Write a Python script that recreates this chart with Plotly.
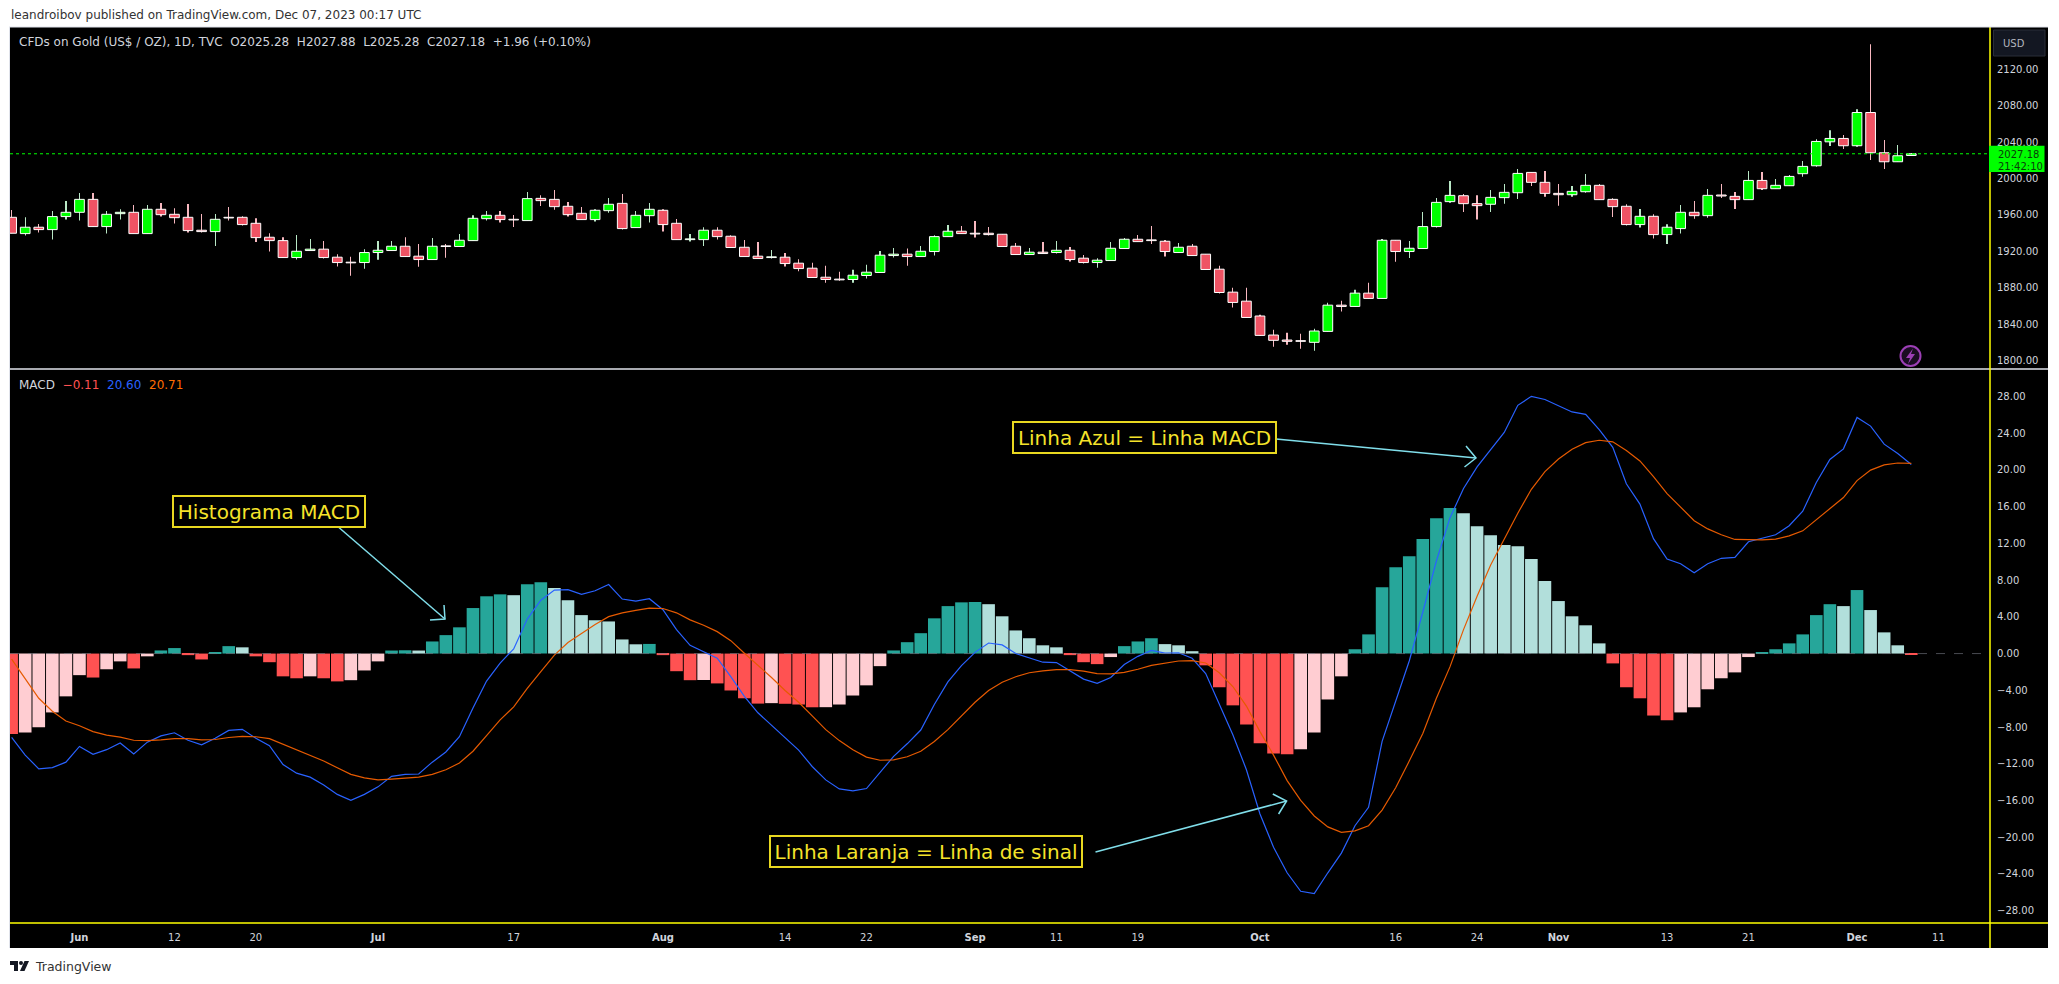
import pandas as pd
import plotly.graph_objects as go

# daily candles, May 25 to Dec 07 2023
open_ = [1957.4, 1939.5, 1946.5, 1943.9, 1958.2, 1962.9, 1977.1, 1947.2, 1961.4, 1962.9, 1939.5, 1966.2, 1960.7, 1957.4, 1943.2,
         1941.7, 1957.4, 1957.4, 1950.8, 1935.5, 1931.8, 1913.2, 1920.9, 1922.4, 1913.6, 1908.1, 1907.7, 1918.7, 1920.9, 1925.6,
         1914.7, 1911.0, 1926.0, 1925.3, 1931.8, 1955.9, 1959.6, 1955.2, 1953.8, 1978.2, 1977.1, 1969.5, 1961.8, 1954.9, 1964.7,
         1972.7, 1946.1, 1959.2, 1965.1, 1950.8, 1932.9, 1932.9, 1943.2, 1936.6, 1924.5, 1914.7, 1913.2, 1913.6, 1907.0, 1901.5,
         1891.6, 1889.5, 1889.1, 1893.5, 1896.8, 1915.4, 1916.9, 1914.3, 1919.8, 1936.2, 1942.1, 1939.9, 1939.9, 1938.8, 1925.6,
         1916.5, 1919.1, 1918.7, 1921.2, 1912.5, 1907.7, 1909.9, 1923.1, 1933.3, 1932.6, 1931.1, 1918.7, 1925.6, 1916.9, 1900.4,
         1875.2, 1865.3, 1849.0, 1828.1, 1822.6, 1821.9, 1820.1, 1832.1, 1860.9, 1859.5, 1874.1, 1868.3, 1932.2, 1919.8, 1923.1,
         1947.2, 1974.6, 1981.1, 1972.4, 1971.7, 1979.0, 1984.4, 2006.7, 1995.8, 1983.7, 1982.2, 1985.5, 1992.5, 1977.1, 1969.5,
         1949.4, 1958.5, 1938.4, 1945.0, 1962.9, 1959.2, 1981.9, 1980.4, 1976.8, 1997.9, 1988.8, 1992.1, 2005.3, 2014.0, 2040.3,
         2044.0, 2036.0, 2072.5, 2028.3, 2018.4, 2025.28]
high = [1965.5, 1957.4, 1950.1, 1964.4, 1975.3, 1984.1, 1984.1, 1964.4, 1966.2, 1970.9, 1970.9, 1973.1, 1967.3, 1972.0, 1961.1,
        1961.1, 1968.7, 1958.5, 1956.3, 1939.9, 1935.5, 1938.0, 1933.7, 1931.5, 1916.9, 1914.0, 1922.4, 1931.5, 1931.5, 1935.5,
        1928.2, 1934.8, 1928.2, 1939.1, 1959.6, 1964.4, 1964.4, 1960.0, 1985.2, 1981.5, 1987.3, 1974.2, 1968.7, 1966.2, 1978.6,
        1983.0, 1964.4, 1973.1, 1966.2, 1955.6, 1939.1, 1946.5, 1946.5, 1937.7, 1932.6, 1930.4, 1921.6, 1918.3, 1911.4, 1907.4,
        1904.1, 1897.5, 1899.7, 1905.2, 1920.5, 1923.8, 1923.1, 1926.0, 1937.7, 1949.0, 1947.9, 1953.4, 1946.8, 1938.8, 1929.3,
        1923.8, 1930.4, 1931.5, 1924.9, 1916.1, 1912.5, 1930.4, 1934.8, 1938.0, 1947.9, 1932.6, 1929.3, 1928.2, 1916.9, 1904.1,
        1880.0, 1880.0, 1850.4, 1834.0, 1830.7, 1829.6, 1835.0, 1863.5, 1865.7, 1877.8, 1885.4, 1933.7, 1932.2, 1931.5, 1963.2,
        1978.6, 1997.2, 1983.0, 1981.5, 1987.3, 1993.9, 2010.4, 2006.7, 2008.2, 1993.9, 1991.7, 2005.0, 1993.9, 1978.2, 1971.7,
        1966.5, 1960.7, 1949.7, 1970.9, 1975.3, 1988.5, 1993.9, 1985.2, 2008.2, 2007.1, 1999.4, 2003.8, 2019.3, 2043.2, 2053.1,
        2047.7, 2076.1, 2147.4, 2042.2, 2036.7, 2027.88]
low = [1939.9, 1937.3, 1940.6, 1932.9, 1954.9, 1953.8, 1947.2, 1939.5, 1954.9, 1939.5, 1939.5, 1958.2, 1950.5, 1940.6, 1940.6,
       1926.0, 1953.8, 1948.3, 1930.4, 1919.8, 1913.2, 1911.0, 1920.9, 1912.1, 1903.3, 1893.1, 1900.8, 1910.7, 1920.9, 1914.3,
       1903.0, 1911.0, 1913.0, 1925.3, 1931.8, 1953.8, 1951.6, 1946.8, 1953.8, 1969.8, 1965.8, 1958.2, 1954.9, 1952.7, 1962.5,
       1943.9, 1946.1, 1951.6, 1941.7, 1932.9, 1930.7, 1926.0, 1932.9, 1924.2, 1914.3, 1912.1, 1912.1, 1903.3, 1898.1, 1891.3,
       1885.4, 1887.6, 1885.4, 1890.2, 1896.8, 1913.2, 1904.1, 1914.3, 1915.4, 1936.2, 1939.5, 1935.1, 1937.3, 1925.3, 1916.5,
       1916.5, 1917.6, 1917.6, 1908.8, 1906.6, 1901.9, 1909.9, 1923.1, 1930.7, 1928.2, 1914.3, 1918.7, 1915.4, 1900.1, 1873.8,
       1858.4, 1847.4, 1827.7, 1815.3, 1817.5, 1813.1, 1810.9, 1832.1, 1854.0, 1859.5, 1868.3, 1868.3, 1908.5, 1912.8, 1923.1,
       1946.1, 1973.5, 1963.2, 1954.9, 1963.2, 1972.4, 1977.5, 1991.7, 1980.1, 1970.2, 1980.1, 1984.4, 1976.8, 1957.8, 1948.3,
       1946.1, 1934.0, 1928.2, 1939.5, 1955.9, 1957.0, 1978.6, 1966.5, 1976.8, 1987.3, 1988.8, 1992.1, 2002.0, 2013.0, 2035.6,
       2032.3, 2034.9, 2020.3, 2010.4, 2018.4, 2025.28]
close = [1939.9, 1946.5, 1943.9, 1958.2, 1962.9, 1977.1, 1947.2, 1960.7, 1962.9, 1939.5, 1966.2, 1960.3, 1957.0, 1942.8, 1941.7,
         1955.2, 1956.7, 1949.4, 1935.1, 1931.8, 1913.2, 1920.1, 1922.4, 1913.2, 1907.7, 1907.4, 1918.7, 1921.2, 1925.6, 1914.3,
         1911.0, 1925.6, 1925.3, 1932.2, 1956.3, 1959.6, 1954.9, 1954.5, 1977.9, 1975.7, 1969.1, 1960.3, 1954.9, 1965.1, 1971.7,
         1945.0, 1959.6, 1966.2, 1949.4, 1932.9, 1933.7, 1943.2, 1936.2, 1924.2, 1914.3, 1912.1, 1914.0, 1906.6, 1901.1, 1891.3,
         1889.1, 1888.7, 1893.8, 1897.1, 1915.8, 1916.9, 1914.3, 1920.1, 1936.2, 1942.1, 1939.5, 1939.1, 1938.4, 1925.3, 1916.5,
         1919.1, 1917.6, 1921.2, 1911.0, 1907.7, 1910.3, 1923.4, 1933.3, 1930.7, 1931.8, 1919.8, 1924.5, 1915.4, 1900.1, 1874.8,
         1863.9, 1847.4, 1827.7, 1822.3, 1821.2, 1821.2, 1832.5, 1860.9, 1859.5, 1874.1, 1868.3, 1932.2, 1919.8, 1923.4, 1947.2,
         1973.8, 1981.5, 1972.4, 1970.2, 1979.3, 1984.8, 2005.6, 1995.8, 1983.7, 1982.2, 1985.9, 1992.5, 1976.8, 1969.1, 1949.4,
         1958.5, 1938.4, 1946.5, 1962.9, 1959.2, 1981.5, 1980.8, 1976.8, 1997.9, 1988.8, 1992.5, 2002.3, 2013.3, 2040.7, 2044.0,
         2036.0, 2072.5, 2028.3, 2018.4, 2025.0, 2027.18]

hist = [-8.76, -8.59, -8.03, -6.41, -4.66, -2.35, -2.61, -1.71, -0.85, -1.62, -0.30, 0.34, 0.60, -0.17, -0.64,
        0.13, 0.81, 0.68, -0.30, -0.94, -2.48, -2.69, -2.48, -2.69, -3.03, -2.90, -1.84, -0.85, 0.33, 0.36,
        0.33, 1.32, 2.01, 2.86, 4.96, 6.24, 6.45, 6.36, 7.56, 7.77, 7.13, 5.81, 4.19, 3.63, 3.50,
        1.54, 1.01, 1.05, -0.17, -1.92, -2.90, -2.88, -3.25, -4.02, -4.87, -5.45, -5.40, -5.47, -5.55, -5.85,
        -5.84, -5.55, -4.57, -3.46, -1.37, 0.34, 1.24, 2.22, 3.84, 5.17, 5.58, 5.62, 5.38, 4.06, 2.52,
        1.67, 0.90, 0.68, -0.17, -0.94, -1.15, -0.38, 0.81, 1.32, 1.67, 1.03, 0.90, 0.26, -1.28, -3.67,
        -5.64, -7.73, -9.78, -10.89, -10.98, -10.42, -8.59, -5.00, -2.48, 0.47, 2.09, 7.22, 9.40, 10.59, 12.47,
        14.74, 15.85, 15.29, 13.88, 12.90, 11.83, 11.70, 10.29, 7.90, 5.72, 4.06, 3.08, 1.11, -1.07, -3.67,
        -4.87, -6.75, -7.26, -6.41, -5.85, -3.89, -2.69, -2.05, -0.38, 0.13, 0.47, 1.11, 2.09, 4.19, 5.38,
        5.17, 6.92, 4.74, 2.31, 0.90, -0.11]
macd = [-9.14, -11.06, -12.56, -12.43, -11.83, -10.12, -10.98, -10.47, -9.74, -10.94, -9.65, -8.97, -8.63, -9.44, -9.95,
        -9.23, -8.37, -8.25, -9.23, -10.04, -12.09, -13.03, -13.46, -14.31, -15.34, -15.98, -15.34, -14.52, -13.37, -13.16,
        -13.12, -11.83, -10.72, -9.06, -5.94, -2.99, -1.03, 0.51, 3.76, 5.81, 6.92, 6.96, 6.45, 6.84, 7.52,
        5.94, 5.72, 5.98, 4.78, 2.61, 0.90, 0.17, -0.51, -2.52, -4.66, -6.45, -7.78, -9.18, -10.51, -12.30,
        -13.76, -14.74, -14.95, -14.70, -12.90, -11.19, -9.83, -8.33, -5.55, -3.08, -1.32, 0.13, 1.15, 0.94, 0.0,
        -0.47, -0.94, -0.98, -1.88, -2.78, -3.25, -2.61, -1.20, -0.30, 0.34, 0.04, 0.09, -0.51, -2.18, -5.55,
        -8.84, -12.65, -17.47, -21.10, -23.88, -25.89, -26.14, -23.88, -21.74, -18.75, -16.75, -9.57, -5.30, -0.81, 4.53,
        10.08, 14.78, 17.99, 20.33, 22.26, 24.09, 27.04, 28.02, 27.68, 26.96, 26.32, 26.06, 24.39, 22.47, 18.50,
        16.28, 12.52, 10.30, 9.78, 8.80, 9.78, 10.38, 10.47, 12.18, 12.52, 12.94, 13.93, 15.51, 18.63, 21.15,
        22.30, 25.72, 24.78, 22.81, 21.79, 20.60]
signal = [-0.60, -2.73, -4.87, -6.28, -7.35, -7.86, -8.50, -8.89, -9.10, -9.44, -9.48, -9.40, -9.27, -9.27, -9.40,
          -9.36, -9.14, -9.01, -9.06, -9.27, -9.87, -10.47, -11.06, -11.71, -12.43, -13.16, -13.54, -13.76, -13.67, -13.54,
          -13.46, -13.16, -12.65, -11.92, -10.64, -8.93, -7.22, -5.81, -3.80, -1.97, -0.17, 1.20, 2.18, 3.16, 4.02,
          4.44, 4.70, 4.96, 4.91, 4.44, 3.67, 3.08, 2.39, 1.41, 0.04, -1.24, -2.61, -4.02, -5.30, -6.79,
          -8.29, -9.48, -10.47, -11.28, -11.62, -11.58, -11.24, -10.64, -9.57, -8.29, -6.79, -5.30, -4.02, -3.12, -2.52,
          -2.09, -1.88, -1.75, -1.75, -1.92, -2.18, -2.22, -2.05, -1.71, -1.28, -1.03, -0.81, -0.77, -1.03, -2.09,
          -3.59, -5.72, -8.50, -11.06, -13.84, -15.98, -17.69, -18.88, -19.48, -19.31, -18.75, -17.05, -14.61, -11.71, -8.71,
          -4.87, -1.45, 2.61, 6.24, 9.65, 12.56, 15.29, 17.90, 19.82, 21.19, 22.26, 22.98, 23.24, 23.07, 22.13,
          20.98, 19.27, 17.43, 15.98, 14.48, 13.58, 12.94, 12.43, 12.39, 12.39, 12.47, 12.82, 13.37, 14.57, 15.76,
          17.00, 18.84, 19.99, 20.55, 20.76, 20.71]

tick_dates = ["2023-06-01", "2023-06-12", "2023-06-20", "2023-07-03", "2023-07-17", "2023-08-01", "2023-08-14",
              "2023-08-22", "2023-09-01", "2023-09-11", "2023-09-19", "2023-10-02", "2023-10-16", "2023-10-24",
              "2023-11-01", "2023-11-13", "2023-11-21", "2023-12-01", "2023-12-11"]
tick_labels = ["<b>Jun</b>", "12", "20", "<b>Jul</b>", "17", "<b>Aug</b>", "14", "22", "<b>Sep</b>", "11", "19",
               "<b>Oct</b>", "16", "24", "<b>Nov</b>", "13", "21", "<b>Dec</b>", "11"]
price_ticks = [1800, 1840, 1880, 1920, 1960, 2000, 2040, 2080, 2120]
macd_ticks = [-28, -24, -20, -16, -12, -8, -4, 0, 4, 8, 12, 16, 20, 24, 28]

W, H = 2059, 984
FONT = "DejaVu Sans"
YELLOW = "#f5e32a"
ARROW = "#80deea"
TEXT = "#d1d4dc"


def px(x):
    return x / W


def py(y):
    return 1 - y / H


def poly(points, closed=False):
    cmds = [("M" if i == 0 else "L") + f"{px(x):.5f},{py(y):.5f}" for i, (x, y) in enumerate(points)]
    return " ".join(cmds) + (" Z" if closed else "")


# the time scale runs on a few sessions past the last bar
axis_days = pd.bdate_range("2023-05-25", periods=len(close) + 6).strftime("%Y-%m-%d").tolist()
days = axis_days[:len(close)]

# histogram colour depends on sign and on the direction against the previous bar
bar_colors = []
for i, h in enumerate(hist):
    falling = i == 0 or h < hist[i - 1]
    if h >= 0:
        bar_colors.append("#b2dfdb" if falling else "#26a69a")
    else:
        bar_colors.append("#ff5252" if falling else "#ffcdd2")

up = [c >= o for o, c in zip(open_, close)]

fig = go.Figure()

# candles as two overlaid bar traces: go.Candlestick only has one colour for wick and
# border, and here the wick is pale while the border is white
fig.add_trace(go.Bar(
    x=days, base=low, y=[h - l for h, l in zip(high, low)], xaxis="x", yaxis="y", width=0.02,
    marker=dict(color=["#b9e8c6" if u else "#f8b8c0" for u in up], line=dict(width=0)),
))
fig.add_trace(go.Bar(
    x=days, base=[min(o, c) for o, c in zip(open_, close)], y=[abs(c - o) for o, c in zip(open_, close)],
    xaxis="x", yaxis="y", width=0.715,
    marker=dict(color=["#00ff00" if u else "#ef5364" for u in up], line=dict(color="#ffffff", width=1)),
))
fig.add_trace(go.Bar(x=days, y=hist, xaxis="x2", yaxis="y2", width=0.93,
                     marker=dict(color=bar_colors, line=dict(width=0))))
fig.add_trace(go.Scatter(x=days, y=macd, xaxis="x2", yaxis="y2", mode="lines",
                         line=dict(color="#2962ff", width=1.2)))
fig.add_trace(go.Scatter(x=days, y=signal, xaxis="x2", yaxis="y2", mode="lines",
                         line=dict(color="#e65a00", width=1.2)))

x_range = [-0.12, 145.8]
shapes = [
    dict(type="rect", xref="paper", yref="paper", x0=px(10), x1=px(2048), y0=py(948), y1=py(27),
         fillcolor="#000000", line_width=0, layer="below"),
    dict(type="line", xref="x domain", yref="y", x0=0, x1=1, y0=close[-1], y1=close[-1],
         line=dict(color="#00ff00", width=1, dash="dot")),
    dict(type="line", xref="x2 domain", yref="y2", x0=0, x1=1, y0=0, y1=0,
         line=dict(color="rgba(120,123,134,0.6)", width=1, dash="dash")),
    dict(type="line", xref="paper", yref="paper", x0=px(10), x1=px(2048), y0=py(369), y1=py(369),
         line=dict(color="#e0e3eb", width=1.5)),
    dict(type="line", xref="paper", yref="paper", x0=px(10), x1=px(2048), y0=py(923), y1=py(923),
         line=dict(color="#ffff00", width=1.5)),
    dict(type="line", xref="paper", yref="paper", x0=px(1990), x1=px(1990), y0=py(948), y1=py(27),
         line=dict(color="#ffff00", width=1.5)),
    dict(type="line", xref="paper", yref="paper", x0=px(9), x1=px(2048), y0=py(27), y1=py(27),
         line=dict(color="#e0e3eb", width=1)),
    dict(type="line", xref="paper", yref="paper", x0=px(9.5), x1=px(9.5), y0=py(948), y1=py(27),
         line=dict(color="#e0e3eb", width=1)),
    # USD button
    dict(type="rect", xref="paper", yref="paper", x0=px(1993.5), x1=px(2045), y0=py(56), y1=py(30),
         fillcolor="#131722", line=dict(color="#2a2e39", width=1)),
    # last price tag
    dict(type="rect", xref="paper", yref="paper", x0=px(1989), x1=px(2044.5), y0=py(172), y1=py(145.7),
         fillcolor="#00ff00", line_width=0),
    # lightning badge
    dict(type="circle", xref="paper", yref="paper", x0=px(1900.5), x1=px(1920.5), y0=py(366), y1=py(346),
         fillcolor="#1a0d22", line=dict(color="#9c3fb5", width=2)),
    dict(type="path", xref="paper", yref="paper", fillcolor="#9c3fb5", line_width=0,
         path=poly([(1913, 348.5), (1906, 358), (1910, 358), (1908, 364), (1915, 354), (1911, 354)], True)),
    # TradingView logo
    dict(type="path", xref="paper", yref="paper", fillcolor="#131722", line_width=0,
         path=poly([(10, 961), (18, 961), (18, 971), (14, 971), (14, 965), (10, 965)], True)),
    dict(type="circle", xref="paper", yref="paper", x0=px(19), x1=px(23), y0=py(965), y1=py(961),
         fillcolor="#131722", line_width=0),
    dict(type="path", xref="paper", yref="paper", fillcolor="#131722", line_width=0,
         path=poly([(24.5, 961), (29, 961), (24.5, 971), (20, 971)], True)),
]

# note arrows with open heads
for line_pts, head_pts in [
    ([(336, 525), (445, 619)], [(444, 605), (445, 619), (430, 620)]),
    ([(1276, 439), (1476, 458)], [(1466, 446), (1476, 458), (1464.5, 467)]),
    ([(1095.5, 852), (1286.6, 801)], [(1272.8, 794), (1286.6, 801), (1278.6, 814)]),
]:
    for pts in (line_pts, head_pts):
        shapes.append(dict(type="path", xref="paper", yref="paper", path=poly(pts),
                           line=dict(color=ARROW, width=1.5)))


def note(text, x, y, w, h):
    return dict(text=text, xref="paper", yref="paper", x=px(x), y=py(y), xanchor="center", yanchor="middle",
                showarrow=False, width=w, height=h, bgcolor="#000000", bordercolor="#e8d820", borderwidth=2,
                font=dict(family=FONT, size=20, color=YELLOW))


def label(text, x, y, color=TEXT, size=12, anchor="left"):
    return dict(text=text, xref="paper", yref="paper", x=px(x), y=py(y), xanchor=anchor, yanchor="middle",
                showarrow=False, borderpad=0, align="left", font=dict(family=FONT, size=size, color=color))


annotations = [
    label("leandroibov published on TradingView.com, Dec 07, 2023 00:17 UTC", 10, 15, "#333333", 12),
    label("CFDs on Gold (US$ / OZ), 1D, TVC\u00a0\u00a0O2025.28\u00a0\u00a0H2027.88\u00a0\u00a0L2025.28\u00a0\u00a0"
          "C2027.18\u00a0\u00a0+1.96 (+0.10%)", 18, 41.5, TEXT, 12),
    label("MACD\u00a0\u00a0<span style='color:#ff5252'>\u22120.11</span>\u00a0\u00a0"
          "<span style='color:#2962ff'>20.60</span>\u00a0\u00a0<span style='color:#ff6d00'>20.71</span>",
          18, 385, TEXT, 12),
    label("USD", 2013.5, 44, "#b2b5be", 10, "center"),
    label("2027.18", 1996.5, 154, "#0a3d0a", 10),
    label("21:42:10", 1996.5, 166, "#0a3d0a", 10),
    label("TradingView", 33.5, 966, "#333333", 12.5),
    note("Histograma MACD", 268.5, 511, 188, 27),
    note("Linha Azul = Linha MACD", 1144.5, 437, 259, 27),
    note("Linha Laranja = Linha de sinal", 925.5, 851, 308, 27),
]

fig.update_layout(
    width=W, height=H,
    margin=dict(l=0, r=0, t=0, b=0),
    paper_bgcolor="#ffffff", plot_bgcolor="#000000",
    showlegend=False, hovermode=False, barmode="overlay",
    font=dict(family=FONT, color=TEXT, size=10),
    shapes=shapes, annotations=annotations,
    xaxis=dict(domain=[px(10), px(1990)], anchor="y", type="category", categoryorder="array",
               categoryarray=axis_days, range=x_range, showgrid=False,
               zeroline=False, showticklabels=False, ticks=""),
    yaxis=dict(domain=[py(369), py(27)], anchor="x", side="right", range=[1790.8, 2166.4], showgrid=False,
               zeroline=False, tickmode="array", tickvals=price_ticks, tickformat=".2f",
               ticks="outside", ticklen=4, tickcolor="#000000"),
    xaxis2=dict(domain=[px(10), px(1990)], anchor="y2", type="category", categoryorder="array",
                categoryarray=axis_days, range=x_range, showgrid=False,
                zeroline=False, tickmode="array", tickvals=tick_dates, ticktext=tick_labels, tickangle=0,
                ticks="outside", ticklen=5, tickcolor="#000000", tickfont=dict(size=10, color=TEXT)),
    yaxis2=dict(domain=[py(923), py(369)], anchor="x2", side="right", range=[-29.35, 31.0], showgrid=False,
                zeroline=False, tickmode="array", tickvals=macd_ticks, tickformat=".2f",
                ticks="outside", ticklen=4, tickcolor="#000000"),
)

fig.write_html("out.html", config=dict(displayModeBar=False),
               post_script="document.body.style.margin='0';document.body.style.overflow='hidden';")
